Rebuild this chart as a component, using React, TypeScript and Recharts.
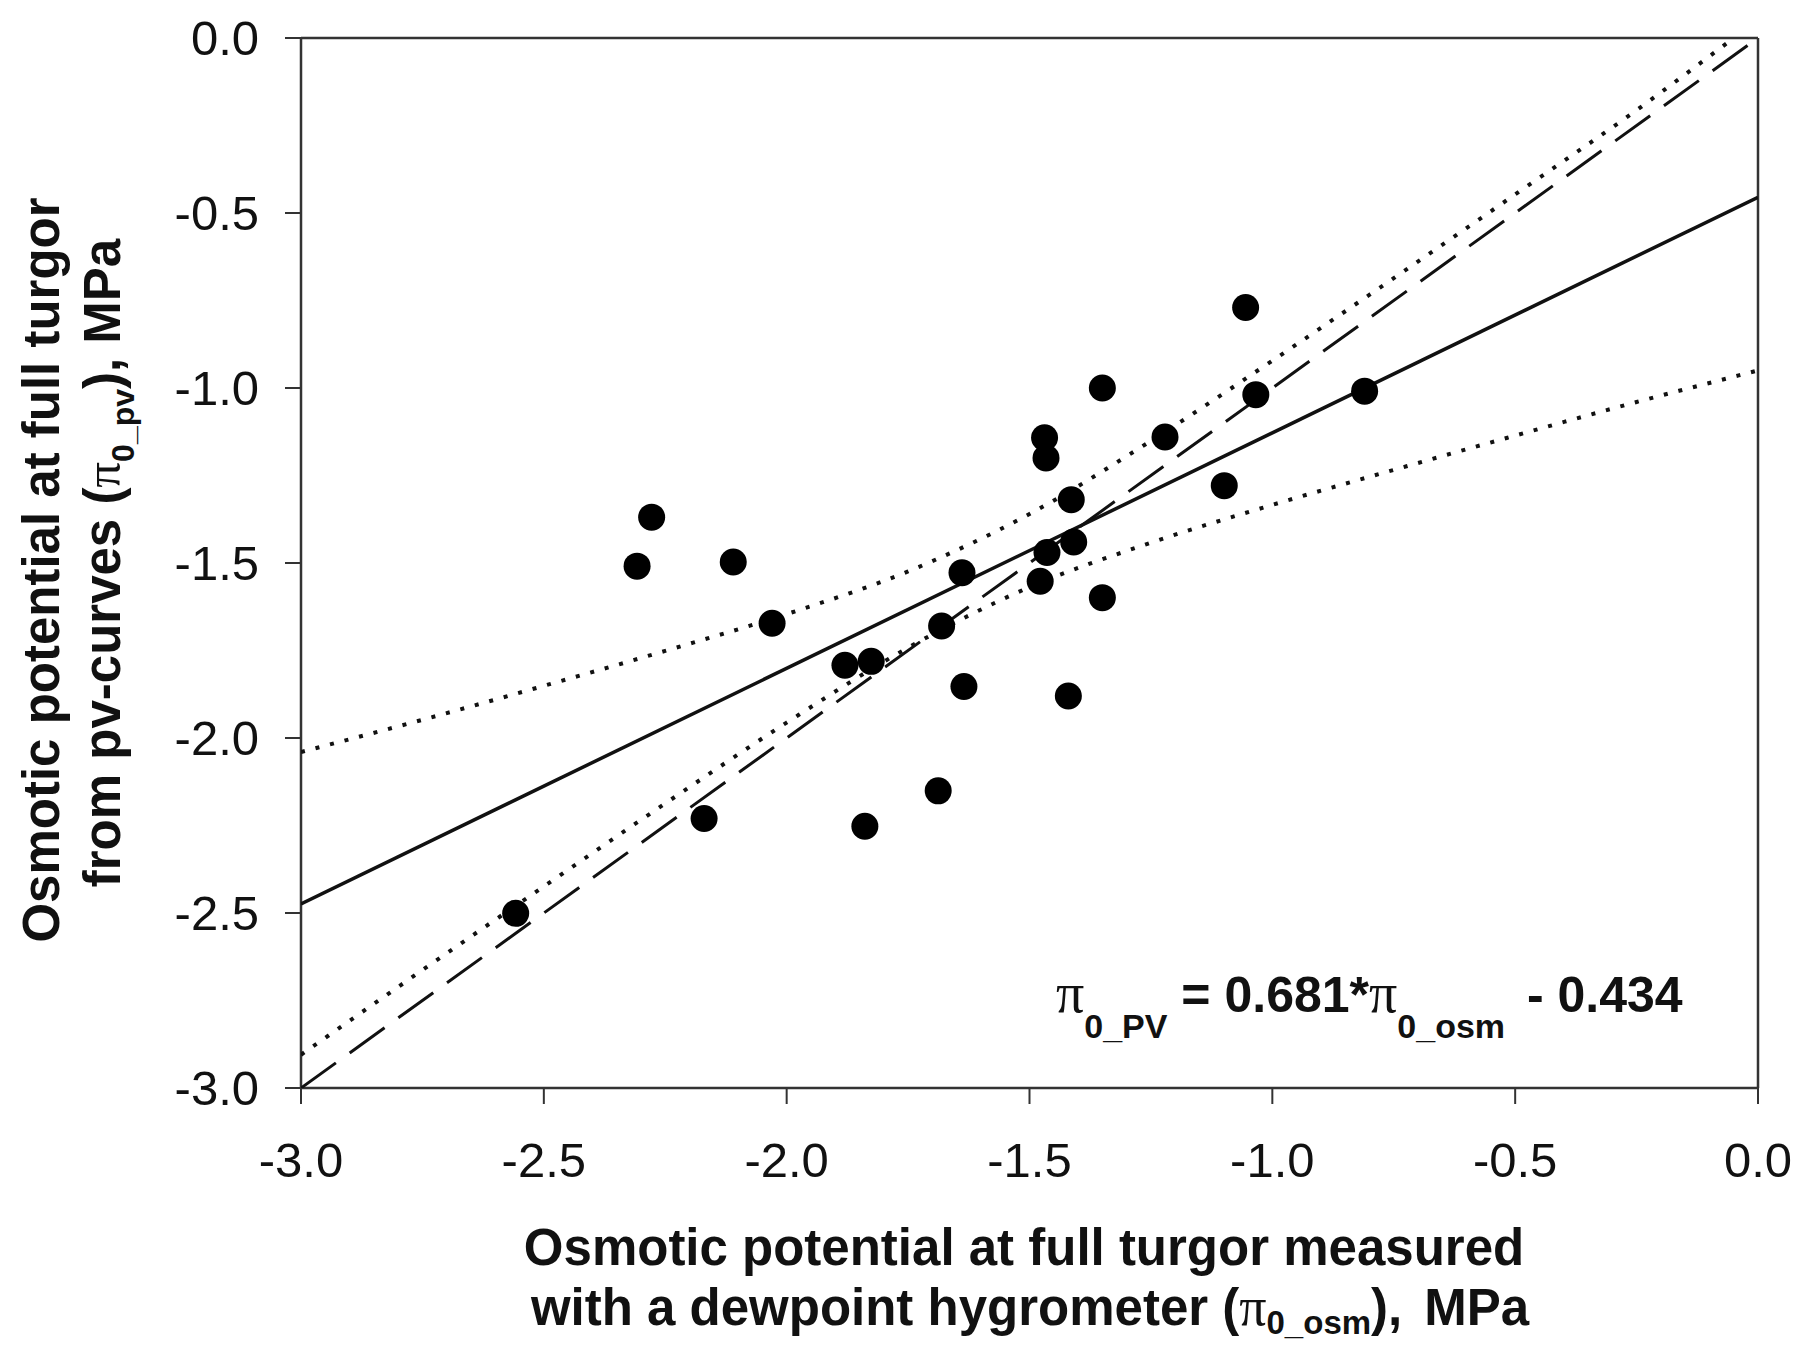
import {
  CartesianGrid,
  Customized,
  Label,
  ReferenceLine,
  Scatter,
  ScatterChart,
  XAxis,
  YAxis,
} from "recharts"

// measured points: pi0 from osmometer (x) vs pi0 from pv-curves (y), MPa
const pointX = [
  -1.055, -1.35, -1.034, -0.81, -1.469, -1.466, -1.221, -1.099, -1.414, -2.278, -2.308, -2.11, -1.409, -1.464,
  -1.639, -1.478, -1.35, -2.03, -1.681, -1.88, -1.826, -1.635, -1.42, -1.688, -2.17, -1.839, -2.558,
]
const pointY = [
  -0.77, -1.0, -1.019, -1.009, -1.142, -1.2, -1.14, -1.279, -1.319, -1.369, -1.509, -1.497, -1.44, -1.47,
  -1.528, -1.552, -1.599, -1.672, -1.68, -1.792, -1.781, -1.853, -1.88, -2.151, -2.23, -2.252, -2.501,
]

// regression line and 1:1 line
const fitX = [-3, 0]
const fitY = [-2.474, -0.455]
const oneToOneX = [-3, 0]
const oneToOneY = [-3, 0]

// dotted confidence bands
const upperX = [-3, -2.75, -2.5, -2.25, -2, -1.75, -1.5, -1.25, -1, -0.75, -0.5, -0.25, -0.05]
const upperY = [-2.04, -1.948, -1.851, -1.751, -1.646, -1.524, -1.36, -1.151, -0.922, -0.686, -0.447, -0.206, 0]
const lowerX = [-3, -2.75, -2.5, -2.25, -2, -1.75, -1.5, -1.25, -1, -0.75, -0.5, -0.25, 0]
const lowerY = [-2.905, -2.663, -2.424, -2.187, -1.956, -1.742, -1.569, -1.442, -1.334, -1.234, -1.136, -1.04, -0.95]

const axisTicks = [-3, -2.5, -2, -1.5, -1, -0.5, 0]

const zip = (xs: number[], ys: number[]) => xs.map((x, i) => ({ x, y: ys[i] }))

const points = zip(pointX, pointY)
const fitLine = zip(fitX, fitY)
const oneToOne = zip(oneToOneX, oneToOneY)
const upperBand = zip(upperX, upperY)
const lowerBand = zip(lowerX, lowerY)

const SANS = "'Liberation Sans', Arial, Helvetica, sans-serif"
const SERIF = "'Liberation Serif', 'Times New Roman', serif"
const AXIS = "#333"

const noShape = () => <g />

function XTitle() {
  return (
    <g fontFamily={SANS} fontWeight="bold" fontSize={51} fill="#111" textAnchor="middle">
      <text x={1024} y={1265}>Osmotic potential at full turgor measured</text>
      <text x={1030} y={1325}>
        with a dewpoint hygrometer (
        <tspan fontFamily={SERIF} fontWeight="normal" fontSize={54}>π</tspan>
        <tspan fontSize={33} dy={9}>0_osm</tspan>
        <tspan dy={-9}>),</tspan>
        <tspan dx={22}>MPa</tspan>
      </text>
    </g>
  )
}

function YTitle() {
  return (
    <g fontFamily={SANS} fontWeight="bold" fontSize={51} fill="#111" textAnchor="middle">
      <text transform="translate(59, 570) rotate(-90)">Osmotic potential at full turgor</text>
      <text transform="translate(120, 563) rotate(-90)">
        from pv-curves (
        <tspan fontFamily={SERIF} fontWeight="normal">π</tspan>
        <tspan fontSize={32} dy={14}>0_pv</tspan>
        <tspan dy={-14}>), MPa</tspan>
      </text>
    </g>
  )
}

function Equation() {
  return (
    <text x={1056} y={1012} fontFamily={SANS} fontWeight="bold" fontSize={50} fill="#111">
      <tspan fontFamily={SERIF} fontWeight="normal" fontSize={56}>π</tspan>
      <tspan fontSize={34} dy={26}>0_PV</tspan>
      <tspan dy={-26}> = 0.681*</tspan>
      <tspan fontFamily={SERIF} fontWeight="normal" fontSize={56}>π</tspan>
      <tspan fontSize={34} dy={26}>0_osm</tspan>
      <tspan dy={-26} dx={8}> - 0.434</tspan>
    </text>
  )
}

export default function App() {
  return (
    <div style={{ position: "absolute", left: 0, top: 0, width: 1799, height: 1346, background: "#fff" }}>
      <ScatterChart width={1799} height={1346} margin={{ top: 38, right: 41, left: 101, bottom: 158 }}>
        <CartesianGrid horizontal={false} vertical={false} />
        <XAxis
          type="number"
          dataKey="x"
          domain={[-3, 0]}
          ticks={axisTicks}
          allowDataOverflow
          height={100}
          tickFormatter={(v: number) => v.toFixed(1)}
          tick={{ fontSize: 49, fill: "#111", fontFamily: SANS }}
          tickSize={16}
          tickMargin={38}
          axisLine={{ stroke: AXIS, strokeWidth: 2.5 }}
          tickLine={{ stroke: AXIS, strokeWidth: 2 }}
        >
          <Label content={XTitle} />
        </XAxis>
        <YAxis
          type="number"
          dataKey="y"
          domain={[-3, 0]}
          ticks={axisTicks}
          allowDataOverflow
          width={200}
          tickFormatter={(v: number) => v.toFixed(1)}
          tick={{ fontSize: 49, fill: "#111", fontFamily: SANS }}
          tickSize={16}
          tickMargin={26}
          axisLine={{ stroke: AXIS, strokeWidth: 2.5 }}
          tickLine={{ stroke: AXIS, strokeWidth: 2 }}
        >
          <Label content={YTitle} />
        </YAxis>

        {/* frame on top and right */}
        <ReferenceLine y={0} stroke={AXIS} strokeWidth={2.5} />
        <ReferenceLine x={0} stroke={AXIS} strokeWidth={2.5} />

        <Scatter
          data={upperBand}
          line={{ stroke: "#111", strokeWidth: 4, strokeDasharray: "4 11" }}
          lineJointType="monotoneX"
          shape={noShape}
          isAnimationActive={false}
        />
        <Scatter
          data={lowerBand}
          line={{ stroke: "#111", strokeWidth: 4, strokeDasharray: "4 11" }}
          lineJointType="monotoneX"
          shape={noShape}
          isAnimationActive={false}
        />
        <Scatter
          data={oneToOne}
          line={{ stroke: "#111", strokeWidth: 3, strokeDasharray: "43 17" }}
          shape={noShape}
          isAnimationActive={false}
        />
        <Scatter
          data={fitLine}
          line={{ stroke: "#111", strokeWidth: 3.5 }}
          shape={noShape}
          isAnimationActive={false}
        />
        <Scatter
          data={points}
          fill="#000"
          shape={(p: any) => <circle cx={p.cx} cy={p.cy} r={13.5} fill="#000" />}
          isAnimationActive={false}
        />
        <Customized component={Equation} />
      </ScatterChart>
    </div>
  )
}
